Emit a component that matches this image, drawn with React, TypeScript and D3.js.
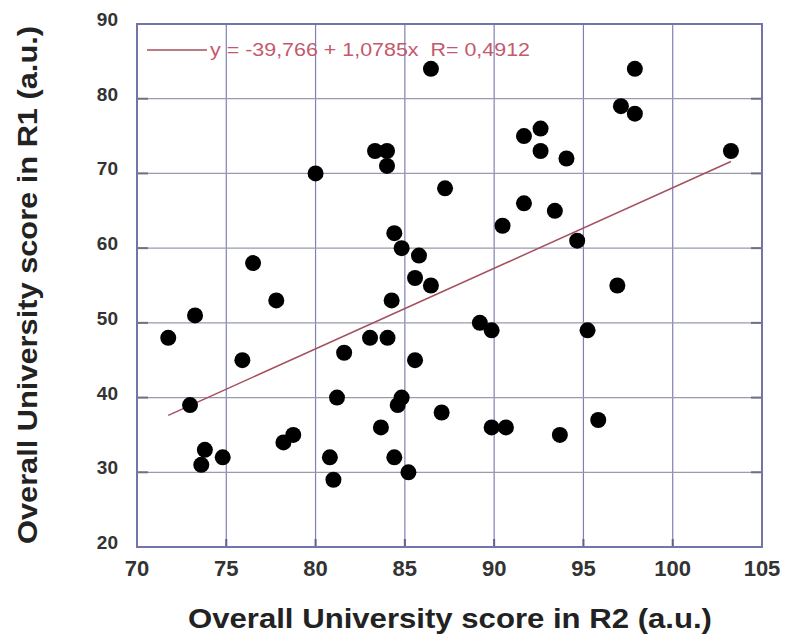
import React, { useRef, useEffect } from 'react'
import * as d3 from 'd3'

// Overall University score, R2 (x) vs R1 (y)
const r2Scores = [
  71.75, 73.25, 72.97, 73.8, 73.6, 74.8, 75.9, 76.5, 77.8, 78.2, 78.75, 80.0, 80.8, 81.0,
  81.2, 81.6, 83.05, 83.33, 83.66, 84.0, 84.0, 84.03, 84.26, 84.41, 84.41, 84.6, 84.82,
  84.82, 85.2, 85.57, 85.57, 85.79, 86.46, 86.46, 87.06, 87.25, 89.2, 89.86, 89.86, 90.47,
  90.66, 91.67, 91.67, 92.6, 92.6, 93.4, 93.68, 94.05, 94.65, 95.23, 95.83, 96.9, 97.1,
  97.88, 97.88, 103.26,
]
const r1Scores = [
  48, 51, 39, 33, 31, 32, 45, 58, 53, 34, 35, 70, 32, 29,
  40, 46, 48, 73, 36, 73, 71, 48, 53, 62, 32, 39, 40,
  60, 30, 56, 45, 59, 55, 84, 38, 68, 50, 49, 36, 63,
  36, 75, 66, 76, 73, 65, 35, 72, 61, 49, 37, 55, 79,
  84, 78, 73,
]
const xTicks = [70, 75, 80, 85, 90, 95, 100, 105]
const yTicks = [20, 30, 40, 50, 60, 70, 80, 90]
const fitIntercept = -39.766
const fitSlope = 1.0785
const fitLabel = 'y = -39,766 + 1,0785x  R= 0,4912'
const xTitle = 'Overall University score in R2 (a.u.)'
const yTitle = 'Overall University score in R1 (a.u.)'

const W = 786
const H = 639
const margin = { top: 24, right: 24, bottom: 92, left: 137 }
const font = '"Liberation Sans", Arial, sans-serif'

const App = () => {
  const chartRef = useRef<SVGSVGElement>(null)

  useEffect(() => {
    const svg = d3.select(chartRef.current)
    svg.selectAll('*').remove()

    const x = d3.scaleLinear().domain([70, 105]).range([margin.left, W - margin.right])
    const y = d3.scaleLinear().domain([20, 90]).range([H - margin.bottom, margin.top])
    const [x0, x1] = x.range()
    const [y0, y1] = y.range()

    // grid
    const grid = svg.append('g')
    grid
      .selectAll('line.v')
      .data(xTicks.slice(1, -1))
      .join('line')
      .attr('x1', (d) => x(d))
      .attr('x2', (d) => x(d))
      .attr('y1', y1)
      .attr('y2', y0)
      .attr('stroke', '#8080b4')
      .attr('stroke-width', 1.2)
    grid
      .selectAll('line.h')
      .data(yTicks.slice(1, -1))
      .join('line')
      .attr('x1', x0)
      .attr('x2', x1)
      .attr('y1', (d) => y(d))
      .attr('y2', (d) => y(d))
      .attr('stroke', '#9a9aaa')
      .attr('stroke-width', 1.2)

    // inner ticks on left / right / bottom
    svg
      .append('g')
      .attr('stroke', '#707080')
      .attr('stroke-width', 2)
      .selectAll('line')
      .data(yTicks.slice(1, -1))
      .join('line')
      .attr('x1', x0)
      .attr('x2', x0 + 11)
      .attr('y1', (d) => y(d))
      .attr('y2', (d) => y(d))
    svg
      .append('g')
      .attr('stroke', '#707080')
      .attr('stroke-width', 2)
      .selectAll('line')
      .data(yTicks.slice(1, -1))
      .join('line')
      .attr('x1', x1)
      .attr('x2', x1 - 11)
      .attr('y1', (d) => y(d))
      .attr('y2', (d) => y(d))
    svg
      .append('g')
      .attr('stroke', '#606090')
      .attr('stroke-width', 2)
      .selectAll('line')
      .data(xTicks.slice(1, -1))
      .join('line')
      .attr('x1', (d) => x(d))
      .attr('x2', (d) => x(d))
      .attr('y1', y0)
      .attr('y2', y0 - 8)

    // frame
    svg
      .append('rect')
      .attr('x', x0)
      .attr('y', y1)
      .attr('width', x1 - x0)
      .attr('height', y0 - y1)
      .attr('fill', 'none')
      .attr('stroke', '#7474ac')
      .attr('stroke-width', 2)

    // tick labels
    svg
      .append('g')
      .selectAll('text')
      .data(yTicks)
      .join('text')
      .attr('x', x0 - 19)
      .attr('y', (d) => y(d) + 2)
      .attr('text-anchor', 'end')
      .attr('font-family', font)
      .attr('font-weight', 'bold')
      .attr('font-size', 19)
      .attr('fill', '#333')
      .text((d) => d)
    svg
      .append('g')
      .selectAll('text')
      .data(xTicks)
      .join('text')
      .attr('x', (d) => x(d))
      .attr('y', y0 + 29)
      .attr('text-anchor', 'middle')
      .attr('font-family', font)
      .attr('font-weight', 'bold')
      .attr('font-size', 22)
      .attr('fill', '#333')
      .text((d) => d)

    // axis titles
    svg
      .append('text')
      .attr('x', 450)
      .attr('y', 628)
      .attr('text-anchor', 'middle')
      .attr('font-family', font)
      .attr('font-weight', 'bold')
      .attr('font-size', 27)
      .attr('fill', '#222')
      .attr('textLength', 524)
      .attr('lengthAdjust', 'spacingAndGlyphs')
      .text(xTitle)
    svg
      .append('text')
      .attr('transform', `translate(37, 285) rotate(-90)`)
      .attr('text-anchor', 'middle')
      .attr('font-family', font)
      .attr('font-weight', 'bold')
      .attr('font-size', 27)
      .attr('fill', '#222')
      .attr('textLength', 518)
      .attr('lengthAdjust', 'spacingAndGlyphs')
      .text(yTitle)

    // regression line across data range
    const [xmin, xmax] = d3.extent(r2Scores) as [number, number]
    const fit = (v: number) => fitIntercept + fitSlope * v
    svg
      .append('line')
      .attr('x1', x(xmin))
      .attr('y1', y(fit(xmin)))
      .attr('x2', x(xmax))
      .attr('y2', y(fit(xmax)))
      .attr('stroke', '#a4505e')
      .attr('stroke-width', 1.5)

    // points
    svg
      .append('g')
      .selectAll('circle')
      .data(r2Scores.map((v, i) => [v, r1Scores[i]]))
      .join('circle')
      .attr('cx', (d) => x(d[0]))
      .attr('cy', (d) => y(d[1]))
      .attr('r', 8)
      .attr('fill', '#000')

    // legend
    svg
      .append('line')
      .attr('x1', 147)
      .attr('x2', 207)
      .attr('y1', 50)
      .attr('y2', 50)
      .attr('stroke', '#a4505e')
      .attr('stroke-width', 1.5)
    svg
      .append('text')
      .attr('x', 210)
      .attr('y', 56)
      .attr('font-family', font)
      .attr('font-size', 18)
      .attr('fill', '#c4586c')
      .attr('textLength', 320)
      .attr('lengthAdjust', 'spacingAndGlyphs')
      .style('white-space', 'pre')
      .text(fitLabel)
  }, [])

  return (
    <svg
      ref={chartRef}
      width={W}
      height={H}
      style={{ position: 'absolute', left: 0, top: 0, background: '#fff' }}
    />
  )
}

export default App
